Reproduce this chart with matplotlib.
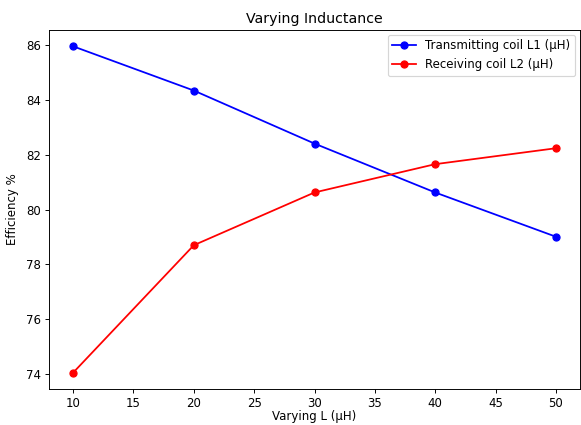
import numpy as np
import matplotlib
matplotlib.use("Agg")
import matplotlib.pyplot as plt

L = [10, 20, 30, 40, 50]
eff_L1 = [85.94, 84.33, 82.40, 80.62, 79.01]
eff_L2 = [74.06, 78.70, 80.62, 81.65, 82.23]

DPI = 85
fig = plt.figure(figsize=(581 / DPI, 425 / DPI), dpi=DPI)
ax = fig.add_axes([49 / 581, 1 - 389 / 425, 531 / 581, 359 / 425])

ax.plot(L, eff_L1, 'o-', color='blue', label='Transmitting coil L1 (µH)')
ax.plot(L, eff_L2, 'o-', color='red', label='Receiving coil L2 (µH)')

ax.set_title('Varying Inductance')
ax.set_xlabel('Varying L (µH)', labelpad=0)
ax.set_ylabel('Efficiency %', labelpad=6)
ax.legend(loc='upper right', borderaxespad=0.4)

fig.savefig('out.png', dpi=DPI)
